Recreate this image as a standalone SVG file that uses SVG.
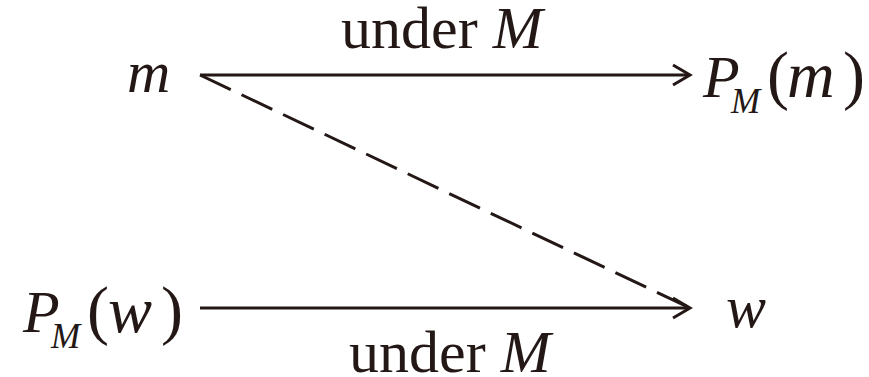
<svg xmlns="http://www.w3.org/2000/svg" width="869" height="377" viewBox="0 0 869 377">
<style>
text{font-family:"Liberation Serif","Times New Roman",serif;fill:#231815}
.i{font-style:italic;font-size:60px}
.j{font-style:italic;font-size:66px}
.s{font-style:italic;font-size:35px}
.p{font-size:66px}
.u{font-size:60px}
.ln{stroke:#231815;stroke-width:3;fill:none}
</style>
<rect width="869" height="377" fill="#fff"/>
<g id="node-m"><text class="i" x="127" y="92">m</text></g>
<g id="node-PMm"><text class="i" x="703" y="97">P</text><text class="s" x="731" y="113">M</text><text class="p" x="767" y="97">(</text><text class="j" x="787" y="97">m</text><text class="p" x="843" y="97">)</text></g>
<g id="node-PMw"><text class="i" x="23" y="332">P</text><text class="s" x="51" y="348">M</text><text class="p" x="87" y="332">(</text><text class="j" x="108" y="332">w</text><text class="p" x="161" y="332">)</text></g>
<g id="node-w"><text class="i" x="726" y="327">w</text></g>
<g id="connectors">
<line class="ln" x1="200" y1="75" x2="689" y2="75"/>
<polyline class="ln" points="673,65 690,75 673,85"/>
<line class="ln" x1="200" y1="308" x2="689" y2="308"/>
<polyline class="ln" points="673,298 690,308 673,318"/>
<line class="ln" x1="200" y1="75" x2="690" y2="308" stroke-dasharray="34 12"/>
<text class="u" x="341" y="48">under <tspan font-style="italic">M</tspan></text>
<text class="u" x="349" y="372">under <tspan font-style="italic">M</tspan></text>
</g>
</svg>
